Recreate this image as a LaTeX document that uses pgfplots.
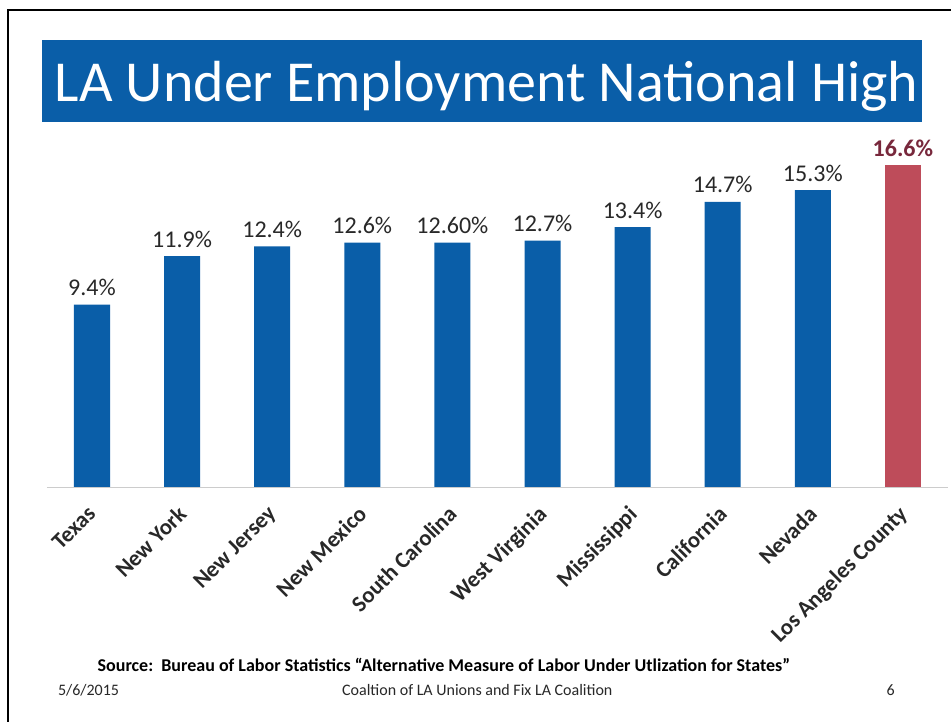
\documentclass[border=0pt]{standalone}
\usepackage{pgfplots}
\pgfplotsset{compat=1.18}
\usepackage{fontspec}
\setmainfont{Carlito}
\definecolor{barblue}{RGB}{10,94,168}
\definecolor{barred}{RGB}{190,76,90}
\definecolor{redlab}{RGB}{120,40,60}
\definecolor{txt}{RGB}{40,40,40}
\begin{document}
\begin{tikzpicture}
\useasboundingbox (0,0) rectangle (713.25pt,541.5pt);
\fill[white] (0,0) rectangle (713.25pt,541.5pt);
\draw[black,line width=1.5pt] (6pt,0) -- (6pt,534pt) -- (713.25pt,534pt);
\fill[barblue] (31.5pt,450pt) rectangle (691.5pt,511.5pt);
\node[white,font=\fontsize{43.5}{46}\selectfont] at (365pt,477pt) {LA Under Employment National High};
\begin{axis}[
  at={(69pt,176.25pt)}, anchor=origin,
  scale only axis, width=675.75pt, height=241.5pt,
  xmin=-0.5, xmax=9.5, ymin=0, ymax=16.6,
  clip=false,
  axis x line*=bottom, hide y axis,
  x axis line style={draw=gray!40, line width=0.6pt},
  xtick={0,...,9}, xtick style={draw=none},
  xticklabels={Texas,New York,New Jersey,New Mexico,South Carolina,West Virginia,Mississippi,California,Nevada,Los Angeles County},
  xticklabel style={rotate=45, anchor=north east, font=\fontsize{17}{19}\selectfont\bfseries, text=txt, inner sep=0pt, yshift=-3pt, xshift=-9pt},
  ybar, bar width=27pt, bar shift=0pt,
  nodes near coords, point meta=explicit symbolic,
  nodes near coords style={font=\fontsize{18}{20}\selectfont, text=txt, yshift=3pt},
]
\addplot[fill=barblue, draw=none] table[meta=lab] {
x y lab
0 9.4 9.4\%
1 11.9 11.9\%
2 12.4 12.4\%
3 12.6 12.6\%
4 12.6 12.60\%
5 12.7 12.7\%
6 13.4 13.4\%
7 14.7 14.7\%
8 15.3 15.3\%
};
\addplot[fill=barred, draw=none, nodes near coords style={text=redlab, font=\fontsize{18}{20}\selectfont\bfseries}] table[meta=lab] {
x y lab
9 16.6 16.6\%
};
\end{axis}
\node[anchor=base west, font=\fontsize{13.5}{15}\selectfont\bfseries, text=black] at (69.75pt,38pt) {Source:\ \ Bureau of Labor Statistics “Alternative Measure of Labor Under Utlization for States”};
\node[anchor=base west, font=\fontsize{12}{14}\selectfont, text=txt] at (40pt,19.5pt) {5/6/2015};
\node[anchor=base, font=\fontsize{12}{14}\selectfont, text=txt] at (358pt,19.5pt) {Coaltion of LA Unions and Fix LA Coalition};
\node[anchor=base, font=\fontsize{12}{14}\selectfont, text=txt] at (668pt,19.5pt) {6};
\end{tikzpicture}
\end{document}
